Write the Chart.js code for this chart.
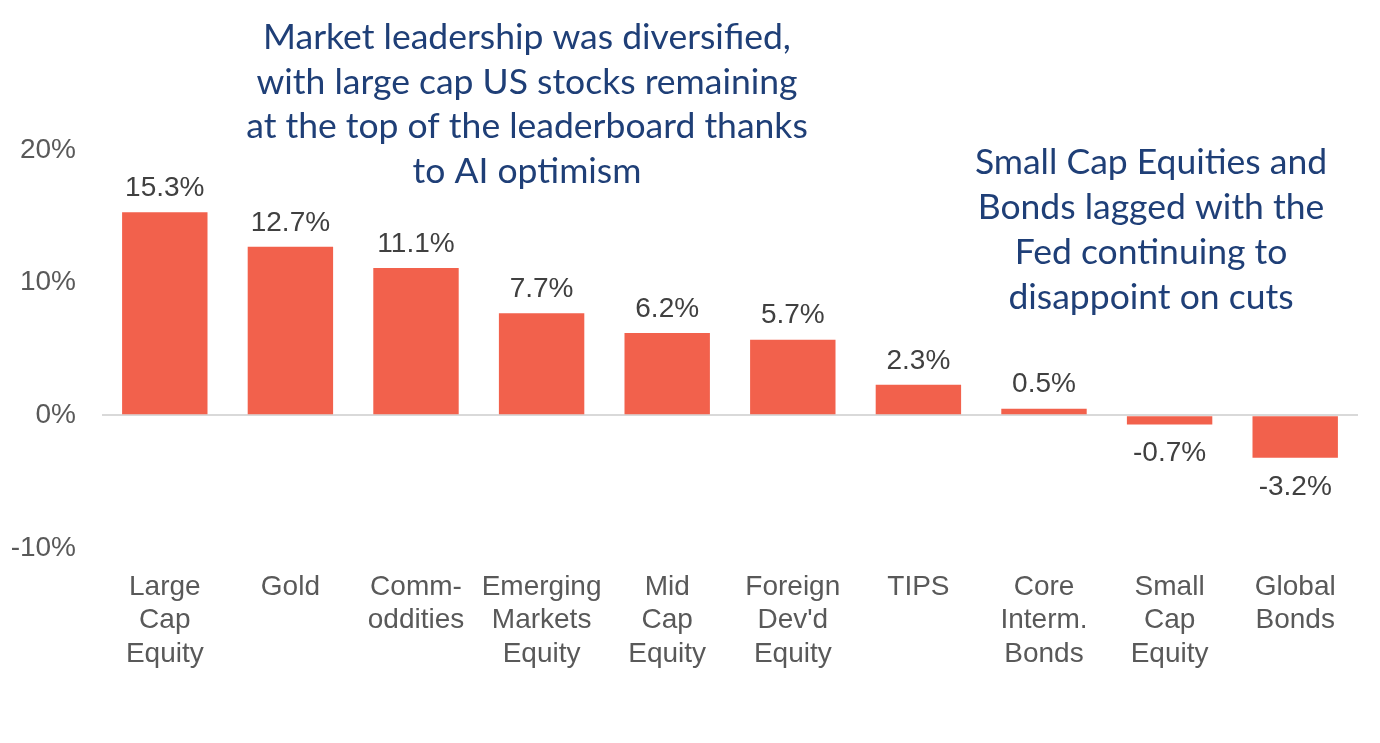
<!DOCTYPE html>
<html>
<head>
<meta charset="utf-8">
<script src="https://cdn.jsdelivr.net/npm/chart.js@4"></script>
<style>
  html, body { margin: 0; padding: 0; background: #fff; }
  #wrap { width: 1380px; height: 743px; }
</style>
</head>
<body>
<div id="wrap"><canvas id="chart"></canvas></div>
<script>
const categories = [
  ["Large", "Cap", "Equity"], ["Gold"], ["Comm-", "oddities"], ["Emerging", "Markets", "Equity"],
  ["Mid", "Cap", "Equity"], ["Foreign", "Dev'd", "Equity"], ["TIPS"], ["Core", "Interm.", "Bonds"],
  ["Small", "Cap", "Equity"], ["Global", "Bonds"]
]
const returns = [15.3, 12.7, 11.1, 7.7, 6.2, 5.7, 2.3, 0.5, -0.7, -3.2]
const yTicks = [-10, 0, 10, 20]
const noteLeft = ["Market leadership was diversified,", "with large cap US stocks remaining",
  "at the top of the leaderboard thanks", "to AI optimism"]
const noteRight = ["Small Cap Equities and", "Bonds lagged with the", "Fed continuing to", "disappoint on cuts"]

const labelFont = "28px 'Liberation Sans', Arial, sans-serif"
const noteFont = "35.5px Lato, 'Noto Sans', sans-serif"

const barLabels = {
  id: "barLabels",
  afterDatasetsDraw(chart) {
    const { ctx } = chart
    const meta = chart.getDatasetMeta(0)
    ctx.save()
    ctx.font = labelFont
    ctx.fillStyle = "#404040"
    ctx.textAlign = "center"
    ctx.textBaseline = "middle"
    meta.data.forEach((bar, i) => {
      const v = returns[i]
      const y = v >= 0 ? bar.y - 24 : bar.y + 29
      ctx.fillText(v.toFixed(1) + "%", bar.x, y)
    })
    ctx.restore()
  }
}

const notes = {
  id: "notes",
  afterDraw(chart) {
    const { ctx } = chart
    ctx.save()
    ctx.font = noteFont
    ctx.fillStyle = "#1F3F77"
    ctx.textAlign = "center"
    ctx.textBaseline = "middle"
    noteLeft.forEach((t, i) => ctx.fillText(t, 527, 38 + i * 44.5))
    noteRight.forEach((t, i) => ctx.fillText(t, 1151, 163 + i * 44.7))
    ctx.restore()
  }
}

new Chart(document.getElementById("chart"), {
  type: "bar",
  data: {
    labels: categories,
    datasets: [{
      data: returns,
      backgroundColor: "#F2614C",
      categoryPercentage: 1,
      barPercentage: 0.68
    }]
  },
  options: {
    responsive: true,
    maintainAspectRatio: false,
    animation: false,
    layout: { padding: { top: 150, right: 22, left: 0, bottom: 0 } },
    plugins: { legend: { display: false }, tooltip: { enabled: false } },
    scales: {
      x: {
        grid: { display: false },
        border: { display: false },
        ticks: {
          color: "#595959",
          font: { family: "'Liberation Sans', Arial, sans-serif", size: 28, lineHeight: 1.2 },
          padding: 14,
          maxRotation: 0,
          autoSkip: false
        },
        afterFit(scale) { scale.height = 195 }
      },
      y: {
        min: -10,
        max: 20,
        afterBuildTicks(scale) { scale.ticks = yTicks.map(v => ({ value: v })) },
        border: { display: false },
        grid: {
          drawTicks: false,
          color: c => c.tick.value === 0 ? "#D9D9D9" : "rgba(0,0,0,0)",
          lineWidth: 2
        },
        ticks: {
          color: "#595959",
          font: { family: "'Liberation Sans', Arial, sans-serif", size: 28 },
          padding: 26,
          callback: v => v + "%"
        },
        afterFit(scale) { scale.width = 102 }
      }
    }
  },
  plugins: [barLabels, notes]
})
</script>
</body>
</html>
